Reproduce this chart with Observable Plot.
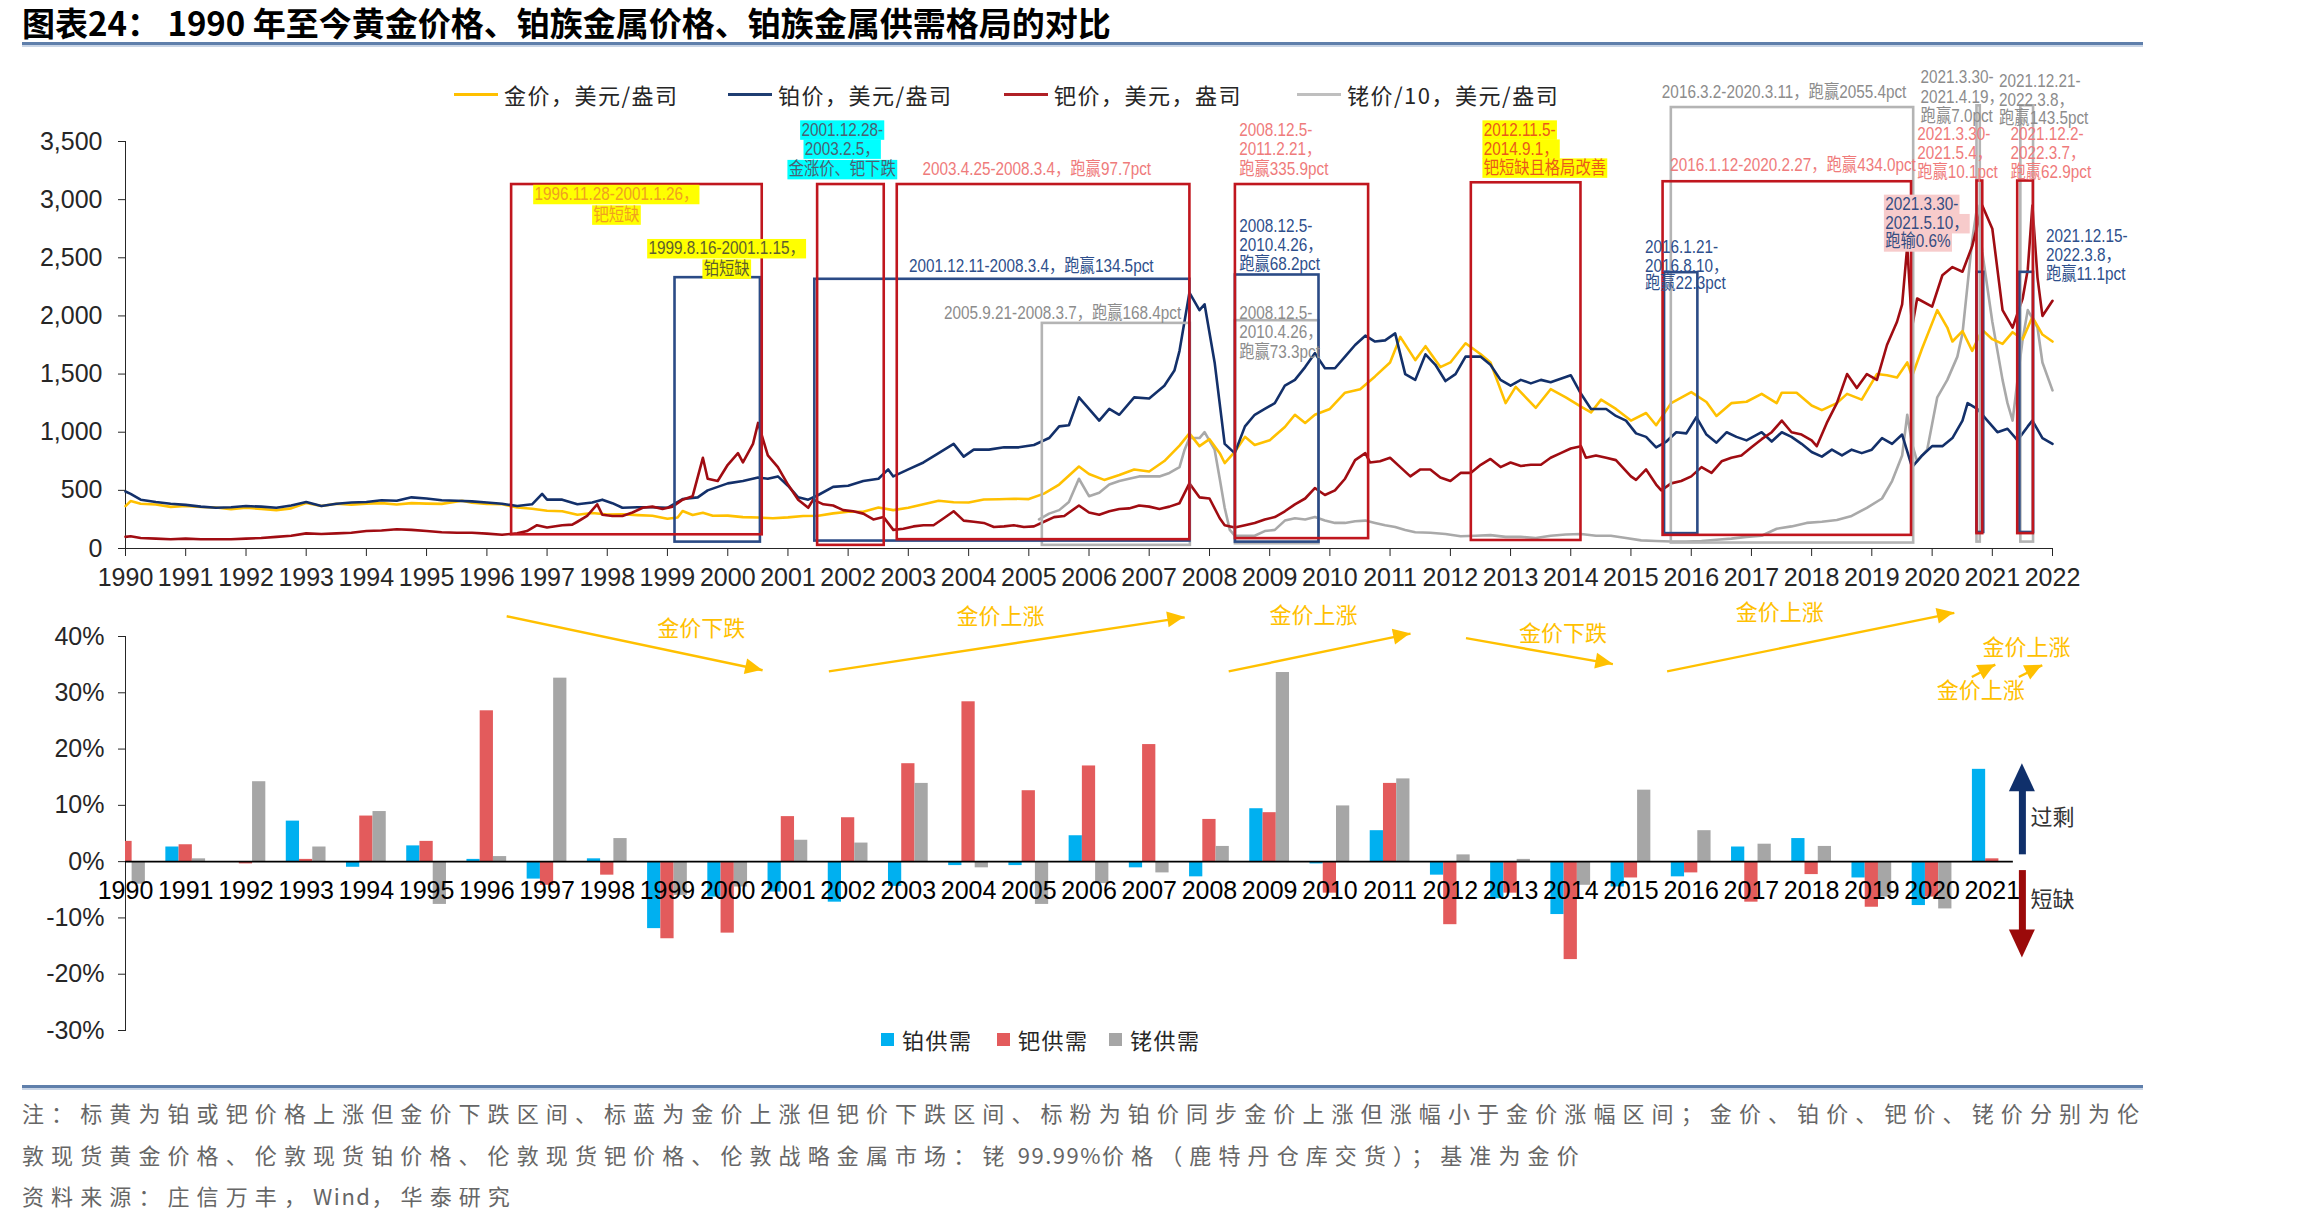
<!DOCTYPE html>
<html lang="zh-CN">
<head>
<meta charset="utf-8">
<title>1990年至今黄金价格、铂族金属价格、铂族金属供需格局的对比</title>
<script src="https://cdn.jsdelivr.net/npm/d3@7"></script>
<script src="https://cdn.jsdelivr.net/npm/@observablehq/plot@0.6"></script>
<style>
  html, body { margin: 0; padding: 0; background: #fff; }
  #page { position: relative; width: 2298px; height: 1225px; overflow: hidden;
          font-family: "Noto Sans CJK SC", "Noto Sans", sans-serif; }
  .abs { position: absolute; }
  #title { left: 22px; top: 1px; width: 1500px; height: 42px; font-size: 33px; font-weight: 700; color: #000;
           line-height: 42px; white-space: nowrap; }
  .rule { position: absolute; left: 22px; width: 2121px; height: 3px; background: #5f7fab;
          box-shadow: 0 2px 0 #c9d5e6; }
  .legend-item { position: absolute; display: flex; align-items: center; font-size: 22px;
                 color: #262626; white-space: nowrap; line-height: 26px; letter-spacing: 1.5px; }
  .swatch-line { width: 44px; height: 3px; margin-right: 6px; }
  .swatch-box { width: 13px; height: 13px; margin-right: 8px; }
  .note { position: absolute; left: 22px; font-size: 22px; color: #666; white-space: nowrap;
          letter-spacing: 7.1px; line-height: 30px; }
  .note .latin { letter-spacing: 1.5px; }
  #topChart, #bottomChart { position: absolute; left: 0; }
  #topChart { top: 60px; }
  #bottomChart { top: 600px; }
</style>
</head>
<body>
<div id="page">
  <div id="title" class="abs">图表24：&nbsp;1990 年至今黄金价格、铂族金属价格、铂族金属供需格局的对比</div>
  <div class="rule" style="top:42px"></div>
  <div id="topChart"></div>
  <div id="bottomChart"></div>
  <div id="priceLegend"></div>
  <div id="balanceLegend"></div>
  <div class="rule" style="top:1085px"></div>
  <div class="note" style="top:1097px">注：标黄为铂或钯价格上涨但金价下跌区间、标蓝为金价上涨但钯价下跌区间、标粉为铂价同步金价上涨但涨幅小于金价涨幅区间；金价、铂价、钯价、铑价分别为伦</div>
  <div class="note" style="top:1139px">敦现货黄金价格、伦敦现货铂价格、伦敦现货钯价格、伦敦战略金属市场：铑<span class="latin"> 99.99%</span>价格（鹿特丹仓库交货）；基准为金价</div>
  <div class="note" style="top:1180px">资料来源：庄信万丰，<span class="latin">Wind</span>，华泰研究</div>
</div>
<script>
const parseMonth = d3.utcParse("%Y-%m");
const parseDay = d3.utcParse("%Y-%m-%d");

// London spot gold, USD/oz
const goldUsd = [
  ["1990-07",365],["1990-08",408],["1990-10",385],["1991-01",378],["1991-04",358],["1991-07",366],["1991-10",357],
  ["1992-01",352],["1992-04",338],["1992-07",350],["1992-10",340],["1993-01",330],["1993-04",345],["1993-07",392],
  ["1993-10",365],["1994-01",385],["1994-04",377],["1994-07",386],["1994-10",390],["1995-01",378],["1995-04",390],
  ["1995-07",386],["1995-10",384],["1996-02",410],["1996-04",393],["1996-07",384],["1996-10",380],["1997-01",352],
  ["1997-04",342],["1997-07",324],["1997-10",320],["1998-01",290],["1998-04",305],["1998-07",292],["1998-10",295],
  ["1999-01",287],["1999-04",281],["1999-07",256],["1999-09",266],["1999-10",322],["1999-12",288],["2000-02",308],
  ["2000-04",281],["2000-07",283],["2000-10",270],["2001-01",266],["2001-04",260],["2001-07",268],["2001-10",280],
  ["2002-01",282],["2002-04",302],["2002-07",316],["2002-10",316],["2003-01",352],["2003-04",330],["2003-07",350],
  ["2003-10",381],["2004-01",410],["2004-04",398],["2004-07",396],["2004-10",422],["2005-01",424],["2005-04",428],
  ["2005-07",425],["2005-10",472],["2006-01",550],["2006-05",705],["2006-07",640],["2006-10",590],["2007-01",632],
  ["2007-04",680],["2007-07",662],["2007-10",752],["2008-01",885],["2008-03",990],["2008-05",880],["2008-07",940],
  ["2008-09",820],["2008-10",735],["2008-12",830],["2009-02",960],["2009-04",890],["2009-07",930],["2009-10",1045],
  ["2009-12",1150],["2010-02",1080],["2010-04",1150],["2010-07",1200],["2010-10",1340],["2011-01",1370],["2011-04",1480],
  ["2011-07",1600],["2011-09",1820],["2011-12",1620],["2012-02",1740],["2012-05",1560],["2012-07",1600],["2012-10",1765],
  ["2013-01",1670],["2013-03",1600],["2013-06",1250],["2013-08",1390],["2013-12",1210],["2014-03",1370],["2014-06",1300],
  ["2014-09",1220],["2014-11",1170],["2015-01",1280],["2015-04",1200],["2015-07",1100],["2015-10",1165],["2015-12",1060],
  ["2016-03",1250],["2016-07",1345],["2016-10",1260],["2016-12",1140],["2017-03",1250],["2017-06",1262],["2017-09",1330],
  ["2017-12",1250],["2018-01",1340],["2018-04",1340],["2018-07",1230],["2018-09",1190],["2018-12",1250],["2019-02",1330],
  ["2019-05",1280],["2019-08",1500],["2019-10",1490],["2019-12",1470],["2020-02",1600],["2020-03",1480],["2020-05",1720],
  ["2020-08",2050],["2020-10",1900],["2020-11",1780],["2021-01",1870],["2021-03",1700],["2021-05",1880],["2021-07",1800],
  ["2021-09",1760],["2021-11",1860],["2022-01",1800],["2022-03",1990],["2022-05",1840],["2022-07",1780]
];

// London spot platinum, USD/oz
const platinumUsd = [
  ["1990-07",490],["1990-08",470],["1990-10",420],["1991-01",400],["1991-04",385],["1991-07",375],["1991-10",360],
  ["1992-01",350],["1992-04",355],["1992-07",365],["1992-10",360],["1993-01",350],["1993-04",370],["1993-07",400],
  ["1993-10",365],["1994-01",385],["1994-04",395],["1994-07",400],["1994-10",415],["1995-01",410],["1995-04",440],
  ["1995-07",430],["1995-10",415],["1996-01",410],["1996-04",405],["1996-07",395],["1996-10",385],["1997-01",365],
  ["1997-04",380],["1997-06",470],["1997-07",420],["1997-10",420],["1998-01",380],["1998-04",395],["1998-06",420],
  ["1998-08",390],["1998-10",350],["1999-01",355],["1999-04",355],["1999-07",350],["1999-10",425],["2000-01",440],
  ["2000-03",500],["2000-05",530],["2000-07",560],["2000-10",580],["2001-01",610],["2001-03",600],["2001-05",620],
  ["2001-07",540],["2001-09",440],["2001-11",420],["2002-01",460],["2002-04",530],["2002-07",540],["2002-10",580],
  ["2003-01",600],["2003-03",680],["2003-04",620],["2003-07",680],["2003-10",740],["2004-01",820],["2004-04",900],
  ["2004-06",790],["2004-08",850],["2004-11",850],["2005-02",870],["2005-05",870],["2005-08",890],["2005-11",950],
  ["2006-01",1050],["2006-03",1060],["2006-05",1300],["2006-07",1200],["2006-09",1100],["2006-11",1200],["2007-01",1150],
  ["2007-04",1300],["2007-07",1290],["2007-10",1400],["2007-12",1530],["2008-01",1700],["2008-03",2200],["2008-05",2050],
  ["2008-06",2100],["2008-08",1600],["2008-10",900],["2008-12",820],["2009-02",1050],["2009-04",1150],["2009-06",1200],
  ["2009-08",1250],["2009-10",1400],["2009-12",1450],["2010-02",1560],["2010-04",1680],["2010-06",1550],["2010-08",1550],
  ["2010-10",1650],["2010-12",1750],["2011-02",1830],["2011-04",1780],["2011-06",1790],["2011-08",1850],["2011-10",1500],
  ["2011-12",1450],["2012-02",1670],["2012-04",1580],["2012-06",1440],["2012-08",1500],["2012-10",1650],["2013-01",1650],
  ["2013-03",1580],["2013-05",1450],["2013-07",1400],["2013-09",1450],["2013-11",1420],["2014-01",1450],["2014-03",1430],
  ["2014-05",1460],["2014-07",1490],["2014-09",1330],["2014-11",1200],["2015-02",1200],["2015-04",1140],["2015-06",1100],
  ["2015-08",990],["2015-10",960],["2015-12",870],["2016-02",920],["2016-04",1000],["2016-06",990],["2016-08",1130],
  ["2016-10",980],["2016-12",910],["2017-02",1000],["2017-04",960],["2017-06",930],["2017-09",1000],["2017-11",920],
  ["2018-01",1000],["2018-03",960],["2018-05",900],["2018-07",830],["2018-09",790],["2018-11",850],["2019-01",800],
  ["2019-03",850],["2019-05",820],["2019-07",850],["2019-09",950],["2019-11",900],["2020-01",980],["2020-03",700],
  ["2020-05",800],["2020-07",880],["2020-09",880],["2020-11",950],["2021-01",1100],["2021-02",1250],["2021-04",1200],
  ["2021-06",1100],["2021-08",1000],["2021-10",1030],["2021-12",930],["2022-02",1050],["2022-03",1100],["2022-05",950],
  ["2022-07",900]
];

// London spot palladium, USD/oz
const palladiumUsd = [
  ["1990-07",100],["1990-08",105],["1990-10",90],["1991-01",85],["1991-04",80],["1991-07",85],["1991-10",80],
  ["1992-01",80],["1992-04",80],["1992-07",85],["1992-10",90],["1993-01",100],["1993-04",110],["1993-07",130],
  ["1993-10",125],["1994-01",130],["1994-04",135],["1994-07",150],["1994-10",155],["1995-01",165],["1995-04",160],
  ["1995-07",150],["1995-10",140],["1996-01",135],["1996-04",135],["1996-07",128],["1996-10",118],["1997-01",130],
  ["1997-03",150],["1997-05",200],["1997-07",180],["1997-10",200],["1997-12",205],["1998-01",230],["1998-03",280],
  ["1998-05",380],["1998-06",290],["1998-08",280],["1998-10",280],["1998-12",310],["1999-02",350],["1999-04",360],
  ["1999-06",340],["1999-08",360],["1999-10",420],["1999-12",450],["2000-02",780],["2000-03",600],["2000-05",580],
  ["2000-07",720],["2000-09",820],["2000-10",740],["2000-12",900],["2001-01",1080],["2001-03",800],["2001-05",700],
  ["2001-07",550],["2001-09",420],["2001-11",350],["2001-12",420],["2002-02",380],["2002-04",370],["2002-06",330],
  ["2002-08",320],["2002-10",300],["2002-12",250],["2003-02",270],["2003-04",160],["2003-06",170],["2003-08",190],
  ["2003-10",200],["2003-12",200],["2004-02",260],["2004-04",320],["2004-06",240],["2004-08",230],["2004-10",220],
  ["2004-12",185],["2005-02",190],["2005-04",200],["2005-06",185],["2005-08",190],["2005-10",230],["2005-12",270],
  ["2006-02",280],["2006-05",370],["2006-07",310],["2006-09",290],["2006-11",320],["2007-01",340],["2007-03",345],
  ["2007-05",370],["2007-07",360],["2007-09",340],["2007-11",360],["2008-01",390],["2008-03",560],["2008-05",440],
  ["2008-07",430],["2008-09",260],["2008-10",200],["2008-12",180],["2009-02",200],["2009-04",220],["2009-06",250],
  ["2009-08",270],["2009-10",320],["2009-12",380],["2010-02",430],["2010-04",520],["2010-06",460],["2010-08",500],
  ["2010-10",600],["2010-12",760],["2011-02",820],["2011-03",740],["2011-05",750],["2011-07",780],["2011-09",700],
  ["2011-11",620],["2012-01",680],["2012-03",680],["2012-05",610],["2012-07",580],["2012-09",650],["2012-11",650],
  ["2013-01",720],["2013-03",770],["2013-05",700],["2013-07",740],["2013-09",710],["2013-11",720],["2014-01",720],
  ["2014-03",780],["2014-05",820],["2014-07",860],["2014-09",880],["2014-10",780],["2014-12",800],["2015-02",780],
  ["2015-04",760],["2015-07",620],["2015-08",590],["2015-10",680],["2015-12",550],["2016-01",500],["2016-03",560],
  ["2016-05",580],["2016-07",620],["2016-09",700],["2016-11",650],["2017-01",750],["2017-03",780],["2017-05",800],
  ["2017-07",870],["2017-09",940],["2017-11",1000],["2018-01",1100],["2018-03",1000],["2018-05",980],["2018-07",930],
  ["2018-08",880],["2018-10",1080],["2018-12",1250],["2019-02",1500],["2019-04",1380],["2019-06",1500],["2019-08",1450],
  ["2019-10",1750],["2019-12",1950],["2020-01",2100],["2020-02",2600],["2020-03",1900],["2020-04",2150],["2020-07",2080],
  ["2020-09",2350],["2020-11",2420],["2021-01",2380],["2021-03",2600],["2021-05",2950],["2021-07",2750],["2021-09",2050],
  ["2021-11",1900],["2022-01",2150],["2022-02",2400],["2022-03",2950],["2022-04",2330],["2022-05",2000],["2022-07",2130]
];

// Rhodium 99.99% (Rotterdam), USD/oz divided by 10
const rhodiumUsdPer10 = [
  ["2005-09",250],["2005-11",300],["2006-01",330],["2006-03",400],["2006-05",600],["2006-07",450],["2006-09",480],
  ["2006-11",550],["2007-01",580],["2007-03",600],["2007-05",620],["2007-07",620],["2007-09",620],["2007-11",650],
  ["2008-01",700],["2008-02",850],["2008-03",950],["2008-05",950],["2008-06",1000],["2008-08",850],["2008-09",600],
  ["2008-10",350],["2008-11",160],["2008-12",110],["2009-02",110],["2009-04",110],["2009-06",150],["2009-08",160],
  ["2009-10",240],["2009-12",260],["2010-02",250],["2010-04",270],["2010-06",240],["2010-08",220],["2010-10",220],
  ["2010-12",235],["2011-02",240],["2011-04",220],["2011-06",200],["2011-08",185],["2011-10",160],["2011-12",140],
  ["2012-03",135],["2012-06",125],["2012-09",105],["2012-12",110],["2013-03",115],["2013-06",100],["2013-09",100],
  ["2013-12",90],["2014-03",110],["2014-06",120],["2014-09",125],["2014-12",110],["2015-03",110],["2015-06",90],
  ["2015-09",70],["2015-12",65],["2016-03",60],["2016-06",60],["2016-09",65],["2016-12",75],["2017-03",85],
  ["2017-06",100],["2017-09",110],["2017-12",170],["2018-03",190],["2018-06",220],["2018-09",230],["2018-12",245],
  ["2019-03",280],["2019-06",350],["2019-09",430],["2019-11",580],["2020-01",800],["2020-02",1150],["2020-03",900],
  ["2020-04",750],["2020-06",850],["2020-08",1300],["2020-10",1450],["2020-12",1650],["2021-01",1850],["2021-03",2650],
  ["2021-04",2950],["2021-05",2550],["2021-07",1950],["2021-09",1450],["2021-10",1250],["2021-11",1100],["2021-12",1450],
  ["2022-01",1800],["2022-02",2050],["2022-04",1900],["2022-05",1600],["2022-07",1360]
];

// Supply/demand balance as share of demand, %, by year
const balanceYears = [1990,1991,1992,1993,1994,1995,1996,1997,1998,1999,2000,2001,2002,2003,2004,2005,
                      2006,2007,2008,2009,2010,2011,2012,2013,2014,2015,2016,2017,2018,2019,2020,2021];
const platinumBalance = [null,2.6,0,7.2,-1.0,2.8,0.4,-3.1,0.5,-11.9,-6.3,-5.4,-7.2,-4.4,-0.7,-0.7,
                         4.6,-1.1,-2.7,9.4,-0.4,5.5,-2.4,-6.6,-9.4,-4.5,-2.7,2.6,4.1,-2.9,-7.8,16.4];
const palladiumBalance = [3.6,3.0,-0.4,0.4,8.1,3.6,26.8,-4.2,-2.4,-13.7,-12.7,8.0,7.8,17.4,28.4,12.6,
                          17.0,20.8,7.5,8.7,-5.6,13.9,-11.2,-5.6,-17.4,-2.9,-2.0,-7.2,-2.3,-8.1,-6.3,0.5];
const rhodiumBalance = [-4.0,0.5,14.2,2.6,8.9,-7.6,0.9,32.6,4.1,-6.0,-4.5,3.8,3.3,13.9,-1.1,-7.6,
                        -3.9,-2.0,2.7,33.6,9.9,14.7,1.2,0.4,-4.2,12.7,5.5,3.1,2.7,-6.3,-8.4,null];

// Windows in which each metal outperformed / diverged from gold
const windows = [
  {tone:"pd", start:"1996-11-28", end:"2001-01-26", low:118, high:3130},
  {tone:"pt", start:"1999-08-16", end:"2001-01-15", low:55,  high:2329},
  {tone:"pd", start:"2001-12-28", end:"2003-02-05", low:27,  high:3130},
  {tone:"pt", start:"2001-12-11", end:"2008-03-04", low:64,  high:2315},
  {tone:"pd", start:"2003-04-25", end:"2008-03-04", low:76,  high:3130},
  {tone:"rh", start:"2005-09-21", end:"2008-03-07", low:27,  high:1936},
  {tone:"pd", start:"2008-12-05", end:"2011-02-21", low:85,  high:3130},
  {tone:"pt", start:"2008-12-05", end:"2010-04-26", low:55,  high:2352},
  {tone:"rh", start:"2008-12-05", end:"2010-04-26", low:41,  high:1959},
  {tone:"pd", start:"2012-11-05", end:"2014-09-01", low:69,  high:3145},
  {tone:"pd", start:"2016-01-12", end:"2020-02-27", low:113, high:3154},
  {tone:"pt", start:"2016-01-21", end:"2016-08-10", low:128, high:2372},
  {tone:"rh", start:"2016-03-02", end:"2020-03-11", low:47,  high:3792},
  {tone:"rh", start:"2021-03-30", end:"2021-04-19", low:55,  high:3807},
  {tone:"pd", start:"2021-03-30", end:"2021-05-04", low:128, high:3160},
  {tone:"pt", start:"2021-03-30", end:"2021-05-10", low:138, high:2375},
  {tone:"rh", start:"2021-12-21", end:"2022-03-08", low:55,  high:3807},
  {tone:"pd", start:"2021-12-02", end:"2022-03-07", low:128, high:3160},
  {tone:"pt", start:"2021-12-15", end:"2022-03-08", low:138, high:2375}
];

// Window notes, one entry per text line, anchored at a date and a price level
const windowNotes = [
  {at:"1998-08-25", v:3047, anchor:"middle", tone:"amberOnYellow", text:"1996.11.28-2001.1.26，"},
  {at:"1998-08-25", v:2870, anchor:"middle", tone:"amberOnYellow", text:"钯短缺"},
  {at:"2000-06-24", v:2581, anchor:"middle", tone:"oliveOnYellow", text:"1999.8.16-2001.1.15，"},
  {at:"2000-06-24", v:2405, anchor:"middle", tone:"oliveOnYellow", text:"铂短缺"},
  {at:"2002-05-26", v:3601, anchor:"middle", tone:"slateOnCyan", text:"2001.12.28-"},
  {at:"2002-05-26", v:3437, anchor:"middle", tone:"slateOnCyan", text:"2003.2.5，"},
  {at:"2002-05-26", v:3261, anchor:"middle", tone:"slateOnCyan", text:"金涨价、钯下跌"},
  {at:"2005-07-16", v:2430, anchor:"middle", tone:"pt", text:"2001.12.11-2008.3.4，跑赢134.5pct"},
  {at:"2005-08-18", v:3261, anchor:"middle", tone:"pd", text:"2003.4.25-2008.3.4，跑赢97.7pct"},
  {at:"2006-01-22", v:2027, anchor:"middle", tone:"rh", text:"2005.9.21-2008.3.7，跑赢168.4pct"},
  {at:"2008-12-28", v:3601, anchor:"start", tone:"pd", text:"2008.12.5-"},
  {at:"2008-12-28", v:3437, anchor:"start", tone:"pd", text:"2011.2.21，"},
  {at:"2008-12-28", v:3261, anchor:"start", tone:"pd", text:"跑赢335.9pct"},
  {at:"2008-12-28", v:2770, anchor:"start", tone:"pt", text:"2008.12.5-"},
  {at:"2008-12-28", v:2606, anchor:"start", tone:"pt", text:"2010.4.26，"},
  {at:"2008-12-28", v:2442, anchor:"start", tone:"pt", text:"跑赢68.2pct"},
  {at:"2008-12-28", v:2027, anchor:"start", tone:"rh", text:"2008.12.5-"},
  {at:"2008-12-28", v:1863, anchor:"start", tone:"rh", text:"2010.4.26，"},
  {at:"2008-12-28", v:1687, anchor:"start", tone:"rh", text:"跑赢73.3pct"},
  {at:"2013-01-19", v:3601, anchor:"start", tone:"redOnYellow", text:"2012.11.5-"},
  {at:"2013-01-19", v:3437, anchor:"start", tone:"redOnYellow", text:"2014.9.1，"},
  {at:"2013-01-19", v:3274, anchor:"start", tone:"redOnYellow", text:"钯短缺且格局改善"},
  {at:"2018-03-10", v:3299, anchor:"middle", tone:"pd", text:"2016.1.12-2020.2.27，跑赢434.0pct"},
  {at:"2015-09-24", v:2594, anchor:"start", tone:"pt", text:"2016.1.21-"},
  {at:"2015-09-24", v:2430, anchor:"start", tone:"pt", text:"2016.8.10，"},
  {at:"2015-09-24", v:2279, anchor:"start", tone:"pt", text:"跑赢22.3pct"},
  {at:"2018-01-15", v:3928, anchor:"middle", tone:"rh", text:"2016.3.2-2020.3.11，跑赢2055.4pct"},
  {at:"2020-04-22", v:4054, anchor:"start", tone:"rh", text:"2021.3.30-"},
  {at:"2020-04-22", v:3878, anchor:"start", tone:"rh", text:"2021.4.19，"},
  {at:"2020-04-22", v:3714, anchor:"start", tone:"rh", text:"跑赢7.0pct"},
  {at:"2021-08-11", v:4021, anchor:"start", tone:"rh", text:"2021.12.21-"},
  {at:"2021-08-11", v:3855, anchor:"start", tone:"rh", text:"2022.3.8，"},
  {at:"2021-08-11", v:3698, anchor:"start", tone:"rh", text:"跑赢143.5pct"},
  {at:"2020-04-01", v:3563, anchor:"start", tone:"pd", text:"2021.3.30-"},
  {at:"2020-04-01", v:3401, anchor:"start", tone:"pd", text:"2021.5.4，"},
  {at:"2020-04-01", v:3240, anchor:"start", tone:"pd", text:"跑赢10.1pct"},
  {at:"2021-10-19", v:3563, anchor:"start", tone:"pd", text:"2021.12.2-"},
  {at:"2021-10-19", v:3401, anchor:"start", tone:"pd", text:"2022.3.7，"},
  {at:"2021-10-19", v:3240, anchor:"start", tone:"pd", text:"跑赢62.9pct"},
  {at:"2019-09-20", v:2962, anchor:"start", tone:"navyOnPink", text:"2021.3.30-"},
  {at:"2019-09-20", v:2796, anchor:"start", tone:"navyOnPink", text:"2021.5.10，"},
  {at:"2019-09-20", v:2639, anchor:"start", tone:"navyOnPink", text:"跑输0.6%"},
  {at:"2022-05-22", v:2684, anchor:"start", tone:"pt", text:"2021.12.15-"},
  {at:"2022-05-22", v:2518, anchor:"start", tone:"pt", text:"2022.3.8，"},
  {at:"2022-05-22", v:2361, anchor:"start", tone:"pt", text:"跑赢11.1pct"}
];

// Gold trend arrows drawn over the balance chart (year, %)
const goldTrendArrows = [
  {x1:1996.33, y1:43.6, x2:2000.58, y2:34.0},
  {x1:2001.68, y1:33.8, x2:2007.59, y2:43.4},
  {x1:2008.32, y1:33.8, x2:2011.34, y2:40.5},
  {x1:2012.26, y1:39.7, x2:2014.70, y2:35.1},
  {x1:2015.60, y1:33.8, x2:2020.37, y2:44.2},
  {x1:2020.66, y1:32.8, x2:2021.05, y2:35.0},
  {x1:2021.44, y1:32.8, x2:2021.83, y2:34.9}
];
const goldTrendNotes = [
  {x:1999.56, y:41.3, text:"金价下跌"},
  {x:2004.53, y:43.4, text:"金价上涨"},
  {x:2009.73, y:43.6, text:"金价上涨"},
  {x:2013.87, y:40.5, text:"金价下跌"},
  {x:2017.47, y:44.2, text:"金价上涨"},
  {x:2020.81, y:30.4, text:"金价上涨"},
  {x:2021.57, y:38.0, text:"金价上涨"}
];
// Surplus / deficit direction keys
const balanceKeys = [
  {x:2021.5, tail:1.3, neck:13.0, tip:17.4, label:"过剩", labelY:7.8, tone:"surplus"},
  {x:2021.5, tail:-1.5, neck:-12.7, tip:-17.1, label:"短缺", labelY:-6.8, tone:"deficit"}
];

// ---- colours and fonts ----
const C = {
  gold: "#ffc000", pt: "#13306a", pd: "#a00c12", rh: "#a9a9a9",
  boxPd: "#c0161e", boxPt: "#2b4b86", boxRh: "#b4b4b4",
  notePd: "#ef7b7b", notePt: "#2e4f8c", noteRh: "#8c8c8c",
  barPt: "#00b0f0", barPd: "#e35b5c", barRh: "#a6a6a6",
  surplus: "#10306b", deficit: "#9b0a0a", axis: "#262626"
};
const noteStyle = {
  pd: {fill: C.notePd}, pt: {fill: C.notePt}, rh: {fill: C.noteRh},
  amberOnYellow: {fill: "#f0a020", bg: "#ffff00"},
  oliveOnYellow: {fill: "#5e5e2e", bg: "#ffff00"},
  redOnYellow: {fill: "#ea5a1a", bg: "#ffff00"},
  slateOnCyan: {fill: "#4a6272", bg: "#00ffff"},
  navyOnPink: {fill: "#354d82", bg: "#f7cbcb"}
};
const latinFont = '"Liberation Sans", Arial, sans-serif';
const noteFont = '"Liberation Sans", Arial, "Noto Sans CJK SC", sans-serif';
const noteSqueeze = 0.85;   // narrow face for the window notes

const toRows = pairs => pairs.map(([m, v]) => ({date: parseMonth(m), value: v}));
const yearTicks = d3.range(1990, 2023).map(y => new Date(Date.UTC(y, 6, 1)));

// ---- price chart ----
const priceMarks = [
  Plot.line(toRows(rhodiumUsdPer10), {x: "date", y: "value", stroke: C.rh, strokeWidth: 2.6}),
  Plot.line(toRows(goldUsd), {x: "date", y: "value", stroke: C.gold, strokeWidth: 2.6}),
  Plot.line(toRows(platinumUsd), {x: "date", y: "value", stroke: C.pt, strokeWidth: 2.6}),
  Plot.line(toRows(palladiumUsd), {x: "date", y: "value", stroke: C.pd, strokeWidth: 2.6})
];
for (const [tone, color] of [["rh", C.boxRh], ["pt", C.boxPt], ["pd", C.boxPd]]) {
  priceMarks.push(Plot.rect(windows.filter(w => w.tone === tone), {
    x1: d => parseDay(d.start), x2: d => parseDay(d.end), y1: "low", y2: "high",
    fill: "none", stroke: color, strokeWidth: 2.6
  }));
}
for (const tone of Object.keys(noteStyle)) {
  for (const anchor of ["start", "middle"]) {
    const rows = windowNotes.filter(n => n.tone === tone && n.anchor === anchor);
    if (!rows.length) continue;
    priceMarks.push(Plot.text(rows, {
      x: d => parseDay(d.at), y: "v", text: "text", textAnchor: anchor, lineAnchor: "middle",
      fill: noteStyle[tone].fill, fontSize: 18, fontFamily: noteFont,
      ariaLabel: d => "note " + d.tone
    }));
  }
}

const pricePlot = Plot.plot({
  width: 2298, height: 540,
  marginLeft: 125, marginRight: 246, marginTop: 81, marginBottom: 52,
  style: {fontFamily: latinFont, fontSize: "25px", color: C.axis, background: "transparent", overflow: "visible"},
  x: {type: "utc", domain: [parseDay("1990-07-01"), parseDay("2022-07-01")], ticks: yearTicks,
      tickFormat: d => String(d.getUTCFullYear()), tickSize: 8, tickPadding: 12, label: null, line: true},
  y: {domain: [0, 3500], ticks: d3.range(0, 3501, 500), tickFormat: d3.format(","),
      tickSize: 7, tickPadding: 16, label: null, line: true},
  marks: priceMarks
});
document.getElementById("topChart").appendChild(pricePlot);

// narrow the window notes horizontally, then paint the highlight boxes behind the marked ones
pricePlot.querySelectorAll('text[aria-label^="note "]').forEach(t => {
  const tr = (t.getAttribute("transform") || "") + ` scale(${noteSqueeze},1)`;
  t.setAttribute("transform", tr);
  const tone = t.getAttribute("aria-label").slice(5);
  const bg = noteStyle[tone] && noteStyle[tone].bg;
  if (!bg) return;
  const b = t.getBBox();
  const r = document.createElementNS("http://www.w3.org/2000/svg", "rect");
  r.setAttribute("x", b.x - 1.5); r.setAttribute("y", b.y + 1);
  r.setAttribute("width", b.width + 3); r.setAttribute("height", b.height - 1);
  r.setAttribute("fill", bg);
  r.setAttribute("transform", tr);
  t.parentNode.insertBefore(r, t);
});

// ---- balance chart ----
const barWidth = 0.22;
const balanceRows = [];
[[platinumBalance, -1, C.barPt], [palladiumBalance, 0, C.barPd], [rhodiumBalance, 1, C.barRh]].forEach(([values, slot, color]) => {
  values.forEach((v, i) => {
    if (v === null) return;
    balanceRows.push({year: balanceYears[i], slot, value: v, color});
  });
});

const balanceMarks = [];
for (const color of [C.barPt, C.barPd, C.barRh]) {
  balanceMarks.push(Plot.rect(balanceRows.filter(d => d.color === color), {
    x1: d => d.year + d.slot * barWidth - barWidth / 2,
    x2: d => d.year + d.slot * barWidth + barWidth / 2,
    y1: 0, y2: "value", fill: color, clip: true
  }));
}
balanceMarks.push(
  Plot.ruleY([0], {x1: 1990, x2: 2021.35, stroke: "#000", strokeWidth: 1.6}),
  Plot.text(balanceYears, {x: d => d, y: 0, dy: 29, text: d => String(d), fontSize: 25,
                           fontFamily: latinFont, fill: "#000", lineAnchor: "middle"}),
  Plot.link(goldTrendArrows, {x1: "x1", y1: "y1", x2: "x2", y2: "y2", stroke: C.gold, strokeWidth: 2.4}),
  Plot.text(goldTrendNotes, {x: "x", y: "y", text: "text", fill: C.gold, fontSize: 22, lineAnchor: "middle",
                             fontFamily: '"Noto Sans CJK SC", sans-serif'}),
  Plot.link(balanceKeys.filter(d => d.tone === "surplus"), {x1: "x", x2: "x", y1: "tail", y2: "neck", stroke: C.surplus, strokeWidth: 7}),
  Plot.link(balanceKeys.filter(d => d.tone === "deficit"), {x1: "x", x2: "x", y1: "tail", y2: "neck", stroke: C.deficit, strokeWidth: 7}),
  Plot.text(balanceKeys, {x: "x", y: "labelY", text: "label", dx: 8, textAnchor: "start", lineAnchor: "middle",
                          fill: "#333", fontSize: 22, fontFamily: '"Noto Sans CJK SC", sans-serif'})
);

const balancePlot = Plot.plot({
  width: 2298, height: 440,
  marginLeft: 125, marginRight: 246, marginTop: 36, marginBottom: 10,
  style: {fontFamily: latinFont, fontSize: "25px", color: C.axis, background: "transparent", overflow: "visible"},
  x: {domain: [1990, 2022], axis: null},
  y: {domain: [-30, 40], ticks: d3.range(-30, 41, 10), tickFormat: d => d + "%",
      tickSize: 7, tickPadding: 14, label: null, line: true},
  marks: balanceMarks
});
document.getElementById("bottomChart").appendChild(balancePlot);

// filled arrow heads, positioned through the chart's own scales
function addHeads(plot, items, get, size) {
  const sx = plot.scale("x"), sy = plot.scale("y");
  const g = d3.select(plot).append("g");
  for (const it of items) {
    const [x1, y1, x2, y2, fill] = get(it);
    const ax = sx.apply(x1), ay = sy.apply(y1), bx = sx.apply(x2), by = sy.apply(y2);
    const ang = Math.atan2(by - ay, bx - ax);
    const cx = bx - size.len * Math.cos(ang), cy = by - size.len * Math.sin(ang);
    const px = -Math.sin(ang) * size.half, py = Math.cos(ang) * size.half;
    g.append("polygon")
      .attr("points", `${bx},${by} ${cx + px},${cy + py} ${cx - px},${cy - py}`)
      .attr("fill", fill);
  }
}
addHeads(balancePlot, goldTrendArrows, d => [d.x1, d.y1, d.x2, d.y2, C.gold], {len: 17, half: 8});
addHeads(balancePlot, balanceKeys, d => [d.x, d.tail, d.x, d.tip, d.tone === "surplus" ? C.surplus : C.deficit], {len: 28, half: 13});

// ---- legends ----
const priceLegend = document.getElementById("priceLegend");
[["金价，美元/盎司", C.gold, 454], ["铂价，美元/盎司", "#1f3e72", 728],
 ["钯价，美元，盎司", "#b02026", 1004], ["铑价/10，美元/盎司", "#bfbfbf", 1297]].forEach(([label, color, left]) => {
  const item = document.createElement("div");
  item.className = "legend-item";
  item.style.left = left + "px"; item.style.top = "81px";
  item.innerHTML = `<span class="swatch-line" style="background:${color}"></span><span>${label}</span>`;
  priceLegend.appendChild(item);
});
const balanceLegend = document.getElementById("balanceLegend");
[["铂供需", C.barPt, 881], ["钯供需", C.barPd, 997], ["铑供需", C.barRh, 1109]].forEach(([label, color, left]) => {
  const item = document.createElement("div");
  item.className = "legend-item";
  item.style.left = left + "px"; item.style.top = "1026px";
  item.innerHTML = `<span class="swatch-box" style="background:${color}"></span><span>${label}</span>`;
  balanceLegend.appendChild(item);
});
</script>
</body>
</html>
